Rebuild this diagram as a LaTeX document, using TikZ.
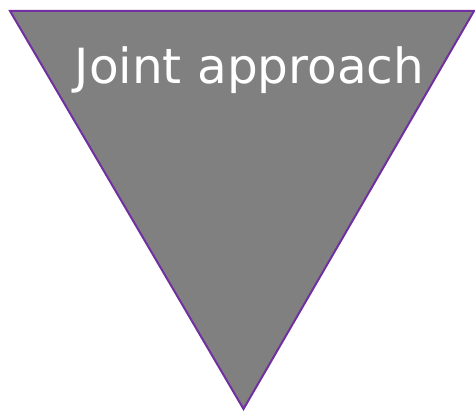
\documentclass[tikz,border=0pt]{standalone}
\usepackage{fontspec}
\setmainfont{DejaVu Sans}
\definecolor{tri}{HTML}{808080}
\definecolor{edge}{HTML}{7030A0}
\begin{document}
\begin{tikzpicture}[x=1pt,y=-1pt,
  trishape/.style={fill=tri,draw=edge,line width=2pt,line join=miter},
  label/.style={text=white,font=\fontsize{48.5}{58}\selectfont,inner sep=0pt}]
\useasboundingbox (0,0) rectangle (475,411);
\coordinate (tl) at (10,11);
\coordinate (tr) at (474,11);
\coordinate (bt) at (243.5,409);
\draw[trishape] (tl) -- (tr) -- (bt) -- cycle;
\node[label,anchor=base] (t) at (249.5,84) {Joint approach};
\end{tikzpicture}
\end{document}
